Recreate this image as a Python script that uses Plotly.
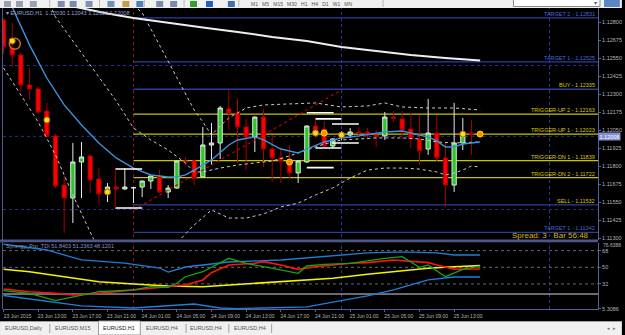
import plotly.graph_objects as go

W, H = 625, 335
ML, MR, MT, MB = 3, 24, 8, 14
PW, PH = W - ML - MR, H - MT - MB
FONT = "Liberation Sans, Arial, sans-serif"

# ---------------- data ----------------
OPEN = [1.12816, 1.12622, 1.12573, 1.12365, 1.12337, 1.12184, 1.12011, 1.11670, 1.11580, 1.11830,
        1.11872, 1.11712, 1.11608, 1.11656, 1.11643, 1.11650, 1.11656, 1.11698, 1.11726, 1.11622,
        1.11649, 1.11837, 1.11837, 1.11726, 1.11948, 1.11962, 1.12198, 1.12170, 1.12073, 1.12004,
        1.12142, 1.11920, 1.11858, 1.11844, 1.11754, 1.11830, 1.12080, 1.12059, 1.11941, 1.12011,
        1.12017, 1.12038, 1.12038, 1.12017, 1.12011, 1.12142, 1.12129, 1.12059, 1.11990, 1.11920,
        1.12031, 1.11858, 1.11670, 1.11962, 1.12031, 1.12030]
HIGH = [1.12830, 1.12795, 1.12590, 1.12483, 1.12350, 1.12240, 1.12025, 1.11733, 1.11962, 1.11969,
        1.11880, 1.11788, 1.11684, 1.11663, 1.11788, 1.11656, 1.11700, 1.11735, 1.11774, 1.11670,
        1.11840, 1.11865, 1.11844, 1.12073, 1.12101, 1.12219, 1.12330, 1.12274, 1.12129, 1.12145,
        1.12198, 1.12017, 1.11934, 1.11948, 1.11840, 1.12083, 1.12122, 1.12115, 1.11995, 1.12045,
        1.12066, 1.12073, 1.12066, 1.12052, 1.12177, 1.12184, 1.12184, 1.12170, 1.12156, 1.12268,
        1.12156, 1.11962, 1.12240, 1.12135, 1.12122, 1.12043]
LOW = [1.12580, 1.12490, 1.12316, 1.12261, 1.12163, 1.11997, 1.11649, 1.11337, 1.11406, 1.11580,
       1.11615, 1.11545, 1.11552, 1.11636, 1.11636, 1.11545, 1.11587, 1.11643, 1.11615, 1.11580,
       1.11645, 1.11809, 1.11670, 1.11720, 1.11809, 1.11851, 1.12052, 1.11823, 1.11774, 1.11899,
       1.11795, 1.11691, 1.11684, 1.11719, 1.11684, 1.11825, 1.11997, 1.11934, 1.11927, 1.11983,
       1.11997, 1.12004, 1.11983, 1.11934, 1.11983, 1.12108, 1.11990, 1.11927, 1.11809, 1.11879,
       1.11830, 1.11518, 1.11622, 1.11913, 1.11879, 1.12000]
CLOSE = [1.12629, 1.12573, 1.12365, 1.12337, 1.12177, 1.12011, 1.11663, 1.11580, 1.11830, 1.11865,
         1.11705, 1.11608, 1.11656, 1.11643, 1.11656, 1.11652, 1.11698, 1.11733, 1.11622, 1.11649,
         1.11837, 1.11830, 1.11719, 1.11948, 1.11962, 1.12205, 1.12170, 1.12073, 1.12004, 1.12142,
         1.11920, 1.11858, 1.11837, 1.11754, 1.11837, 1.12080, 1.12045, 1.11941, 1.11990, 1.12031,
         1.12038, 1.12031, 1.12017, 1.12004, 1.12142, 1.12135, 1.12052, 1.11990, 1.11906, 1.12031,
         1.11858, 1.11670, 1.11962, 1.12011, 1.12024, 1.12008]
BARS = list(range(len(OPEN)))

X_TICKS = [0, 4, 8, 12, 16, 20, 24, 28, 32, 36, 40, 44, 48, 52]
X_TICK_TEXT = ["23 Jun 2015", "23 Jun 13:00", "23 Jun 17:00", "23 Jun 21:00", "24 Jun 01:00",
               "24 Jun 05:00", "24 Jun 09:00", "24 Jun 13:00", "24 Jun 17:00", "24 Jun 21:00",
               "25 Jun 01:00", "25 Jun 05:00", "25 Jun 09:00", "25 Jun 13:00"]
PRICE_TICKS = [1.11300, 1.11425, 1.11550, 1.11675, 1.11800, 1.11925, 1.12050, 1.12175,
               1.12300, 1.12425, 1.12550, 1.12675, 1.12800]
DAY_START_BARS = [15, 39, 63]
ROUND_LEVELS = [1.12500, 1.11500]

# moving averages / bands (bar index, price)
MA_FAST_X = [1, 3, 5, 7, 9, 11, 13, 15, 17, 19, 20, 21, 22, 24, 26, 27, 29, 30, 32, 34, 35, 37, 39,
             41, 44, 46, 48, 49, 50, 51, 52, 53, 55]
MA_FAST_Y = [1.12905, 1.12643, 1.12413, 1.12226, 1.12087, 1.11962, 1.11858, 1.11788, 1.11740,
             1.11726, 1.11726, 1.11740, 1.11774, 1.11844, 1.11948, 1.11983, 1.12004, 1.11983,
             1.11920, 1.11893, 1.11920, 1.11969, 1.11997, 1.12011, 1.12038, 1.12045, 1.12017,
             1.12004, 1.11976, 1.11934, 1.11934, 1.11955, 1.11969]
MA_SLOW_X = [8, 10, 12, 15, 19, 23, 27, 31, 35, 39, 43, 47, 51, 55]
MA_SLOW_Y = [1.12910, 1.12883, 1.12861, 1.12830, 1.12795, 1.12764, 1.12733, 1.12698, 1.12670,
             1.12629, 1.12601, 1.12573, 1.12552, 1.12535]
BAND_A_X = [5, 6, 8, 11, 13, 15, 17, 19, 21, 22, 23, 25, 27, 29, 31, 33, 35, 37, 39, 41, 43, 46,
            48, 50, 52, 55]
BAND_A_Y = [1.12960, 1.12837, 1.12670, 1.12420, 1.12254, 1.12066, 1.11983, 1.11913, 1.11823,
            1.11761, 1.11761, 1.11788, 1.11809, 1.11823, 1.11837, 1.11872, 1.11913, 1.11955,
            1.11983, 1.11990, 1.11997, 1.11997, 1.11990, 1.11969, 1.11962, 1.11969]
BAND_UP_X = [15, 16, 17, 19, 21, 22, 23, 24, 25, 26, 28, 30, 33, 36, 39, 42, 44, 46, 49, 52, 55]
BAND_UP_Y = [1.12920, 1.12865, 1.12754, 1.12531, 1.12309, 1.12191, 1.12108, 1.12017, 1.12080,
             1.12136, 1.12205, 1.12226, 1.12233, 1.12240, 1.12212, 1.12219, 1.12240, 1.12212,
             1.12205, 1.12205, 1.12191]
BAND_LO_X = [0, 2, 4, 6, 8, 10, 11, 14, 17, 20, 22, 24, 26, 28, 30, 32, 34, 36, 38, 40, 42, 44,
             46, 48, 50, 51, 52, 53, 54, 55]
BAND_LO_Y = [1.12483, 1.12295, 1.12108, 1.11879, 1.11601, 1.11344, 1.11219, 1.11120, 1.11150,
             1.11268, 1.11393, 1.11497, 1.11441, 1.11441, 1.11469, 1.11518, 1.11545, 1.11601,
             1.11650, 1.11719, 1.11774, 1.11788, 1.11788, 1.11781, 1.11761, 1.11740, 1.11754,
             1.11774, 1.11802, 1.11795]
TREND_X = [15, 39]
TREND_Y = [1.11497, 1.12330]

# drawn bracket objects (bar from, bar to, price)
BRACKETS = [(12.9, 16.0, 1.11781), (12.9, 16.0, 1.11511),
            (35.0, 38.1, 1.12172), (36.0, 39.0, 1.12129), (37.9, 41.0, 1.12094),
            (37.9, 41.0, 1.11962), (36.0, 39.0, 1.11927), (35.0, 38.1, 1.11791)]
BRACKET_RED = (12.9, 1.11781, 1.11511)

# signal arrows
SIG_YEL_X = [1, 5, 12, 36, 39, 53]
SIG_YEL_Y = [1.12670, 1.12122, 1.11622, 1.12031, 1.12017, 1.12024]
SIG_ORG_X = [33, 37, 55]
SIG_ORG_Y = [1.11830, 1.12031, 1.12024]

# levels
LEVEL_NAMES = ["TARGET 2", "TARGET 1", "BUY", "TRIGGER-UP 2", "TRIGGER-UP 1",
               "TRIGGER-DN 1", "TRIGGER-DN 2", "SELL", "TARGET 1"]
LEVEL_PRICES = [1.12831, 1.12525, 1.12335, 1.12163, 1.12023, 1.11839, 1.11722, 1.11532, 1.11342]
LEVEL_KIND = ["target", "target", "entry", "trigger", "trigger", "trigger", "trigger", "entry", "target"]

# TDI indicator
TDI_GREEN_X = [0, 3, 6, 9, 11, 15, 17, 19, 20, 21, 23, 26, 28, 30, 34, 35, 37, 40, 44, 46, 48, 49, 51, 53, 55]
TDI_GREEN_Y = [24.7, 21.9, 13.9, 20.1, 23.6, 25.5, 29.0, 28.4, 32.7, 39.8, 45.2, 59.7, 54.3, 50.6,
               43.5, 51.4, 53.2, 54.3, 59.7, 61.5, 50.0, 52.5, 39.8, 47.8, 51.24]
TDI_RED_X = [0, 3, 6, 8, 11, 15, 19, 21, 23, 24, 26, 29, 30, 32, 34, 36, 40, 42, 45, 49, 50, 52, 55]
TDI_RED_Y = [26.5, 23.6, 21.9, 20.1, 21.9, 25.5, 28.4, 30.9, 36.3, 44.2, 52.5, 54.3, 56.1, 52.5,
             47.8, 50.6, 54.3, 55.0, 57.9, 55.0, 52.5, 47.8, 48.12]
TDI_YEL_X = [0, 3, 7, 11, 15, 19, 23, 26, 30, 36, 38, 42, 45, 49, 52, 55]
TDI_YEL_Y = [47.8, 45.2, 39.8, 34.4, 31.9, 29.8, 29.0, 30.9, 32.7, 37.0, 38.1, 42.4, 45.2, 48.9, 50.6, 51.84]
TDI_UP_X = [0, 5, 9, 14, 18, 19, 21, 26, 32, 36, 38, 42, 45, 47, 50, 52, 55]
TDI_UP_Y = [75.0, 68.7, 57.9, 54.6, 49.2, 44.9, 50.3, 55.7, 57.9, 61.1, 62.2, 65.5, 66.5, 66.5, 65.5, 63.3, 63.3]
TDI_LO_X = [0, 7, 9, 15, 19, 22, 25, 27, 35, 39, 42, 45, 49, 52, 55]
TDI_LO_Y = [19.5, 10.3, 8.2, 6.0, 8.2, 10.3, 6.0, 5.31, 7.1, 13.6, 19.0, 25.5, 36.3, 39.5, 39.5]
TDI_LEVELS = [68, 50, 32]
TDI_WHITE = 21.1
TDI_MAX_LABEL = "76.6388"
TDI_TICKS = [68, 50, 32, 5.3086]
TDI_TICK_TEXT = ["68", "50", "32", "5.3086"]

TABS = ["EURUSD,Daily", "EURUSD,M15", "EURUSD,H1", "EURUSD,H4", "EURUSD,H4", "EURUSD,H4"]

# ---------------- layout helpers ----------------
def px_x(x):
    return (x - ML) / PW

def px_y(y):
    return (H - MB - y) / PH

X_RANGE = [-0.06, 68.6]
Y_RANGE = [1.11292, 1.12899]
Y2_RANGE = [4.9, 76.8]
AXC = "#56609a"
BLUE_LINE = "#2b3f9e"
BLUE_TXT = "#4a68d8"
YEL_LINE = "#c8c400"
YEL_TXT = "#dccc00"

fig = go.Figure()

# candles
fig.add_trace(go.Candlestick(
    x=BARS, open=OPEN, high=HIGH, low=LOW, close=CLOSE, xaxis="x", yaxis="y",
    increasing=dict(line=dict(color="#e6e6e6", width=1), fillcolor="#28c828"),
    decreasing=dict(line=dict(color="#a80000", width=1), fillcolor="#ff0000"),
    hoverinfo="skip"))

def line(x, y, color, width=1, dash="solid", axis="y"):
    fig.add_trace(go.Scatter(x=x, y=y, mode="lines", yaxis=axis, xaxis="x",
                             line=dict(color=color, width=width, dash=dash), hoverinfo="skip"))

line(BAND_A_X, BAND_A_Y, "#c8c8c8", 1, "dot")
line(BAND_UP_X, BAND_UP_Y, "#c8c8c8", 1, "dot")
line(BAND_LO_X, BAND_LO_Y, "#c8c8c8", 1, "dot")
line(TREND_X, TREND_Y, "#c00000", 1.2, "dot")
line(MA_SLOW_X, MA_SLOW_Y, "#eeeeee", 2)
line(MA_FAST_X, MA_FAST_Y, "#3d92dc", 1.4)

# brackets
bx, by = [], []
for x0, x1, p in BRACKETS:
    bx += [x0, x1, None]
    by += [p, p, None]
line(bx, by, "#ffffff", 1.6)
line([BRACKET_RED[0], BRACKET_RED[0]], [BRACKET_RED[1], BRACKET_RED[2]], "#b00000", 1)

# signals
fig.add_trace(go.Scatter(x=[1.3], y=[1.12650], mode="markers", hoverinfo="skip",
                         marker=dict(symbol="circle-open", size=11, color="#c86a20", line=dict(width=1.5))))
fig.add_trace(go.Scatter(x=SIG_YEL_X, y=SIG_YEL_Y, mode="markers", hoverinfo="skip",
                         marker=dict(symbol="circle", size=6, color="#f0e020", line=dict(color="#c06000", width=1))))
fig.add_trace(go.Scatter(x=SIG_ORG_X, y=SIG_ORG_Y, mode="markers", hoverinfo="skip",
                         marker=dict(symbol="circle", size=6, color="#ff8c00", line=dict(color="#ffe000", width=1))))

# TDI
line(TDI_UP_X, TDI_UP_Y, "#1f7fd8", 1.3, axis="y2")
line(TDI_LO_X, TDI_LO_Y, "#1f7fd8", 1.3, axis="y2")
line(TDI_YEL_X, TDI_YEL_Y, "#f4f400", 1.6, axis="y2")
line(TDI_RED_X, TDI_RED_Y, "#ff1414", 1.6, axis="y2")
line(TDI_GREEN_X, TDI_GREEN_Y, "#12a812", 1.3, axis="y2")

shapes = []
annotations = []

# chrome: toolbar
shapes.append(dict(type="rect", xref="paper", yref="paper", x0=px_x(0), x1=px_x(W), y0=px_y(8), y1=px_y(0),
                   fillcolor="#f0f0f0", line=dict(width=0), layer="above"))
for xi, col in [(4, "#9aa0b0"), (16, "#9aa0b0"), (30, "#9aa0b0"), (58, "#7a8ab0"), (70, "#7a8ab0"),
                (86, "#8090b8"), (108, "#6a90c8"), (123, "#c0a040"), (137, "#5080c0"), (157, "#7a8ab0"),
                (171, "#7a8ab0"), (191, "#30a030"), (207, "#2060c0"), (229, "#4070b0")]:
    shapes.append(dict(type="rect", xref="paper", yref="paper", x0=px_x(xi), x1=px_x(xi + 7),
                       y0=px_y(7), y1=px_y(1), fillcolor=col, line=dict(width=0), layer="above"))
for xs in [50, 100, 145, 185, 240, 385]:
    shapes.append(dict(type="line", xref="paper", yref="paper", x0=px_x(xs), x1=px_x(xs),
                       y0=px_y(7), y1=px_y(0), line=dict(color="#b8b8b8", width=1), layer="above"))
shapes.append(dict(type="rect", xref="paper", yref="paper", x0=px_x(516), x1=px_x(603), y0=px_y(6.5), y1=px_y(-1),
                   fillcolor="#ffffff", line=dict(color="#8a8a8a", width=1), layer="above"))
shapes.append(dict(type="rect", xref="paper", yref="paper", x0=px_x(607), x1=px_x(623), y0=px_y(7), y1=px_y(0),
                   fillcolor="#5a86c8", line=dict(width=0), layer="above"))
annotations.append(dict(xref="paper", yref="paper", x=px_x(250), y=px_y(3.5), xanchor="left", yanchor="middle",
                        text="M1   M5   M15   M30   H1   H4   D1   W1   MN", showarrow=False,
                        font=dict(size=5, color="#505050", family=FONT)))
annotations.append(dict(xref="paper", yref="paper", x=px_x(598), y=px_y(3), xanchor="center", yanchor="middle",
                        text="▾", showarrow=False, font=dict(size=6, color="#4060a0", family=FONT)))

# bottom tab strip
shapes.append(dict(type="rect", xref="paper", yref="paper", x0=px_x(0), x1=px_x(W), y0=px_y(H), y1=px_y(321),
                   fillcolor="#f0f0f0", line=dict(width=0), layer="above"))
shapes.append(dict(type="line", xref="paper", yref="paper", x0=px_x(0), x1=px_x(W), y0=px_y(321.5), y1=px_y(321.5),
                   line=dict(color="#a0a0a0", width=1), layer="above"))
shapes.append(dict(type="rect", xref="paper", yref="paper", x0=px_x(99), x1=px_x(141), y0=px_y(H), y1=px_y(321),
                   fillcolor="#ffffff", line=dict(color="#9a9a9a", width=1), layer="above"))
for xs in [50, 187, 230, 273]:
    shapes.append(dict(type="line", xref="paper", yref="paper", x0=px_x(xs), x1=px_x(xs),
                       y0=px_y(333), y1=px_y(324), line=dict(color="#a0a0a0", width=1), layer="above"))
for name, cx in zip(TABS, [24, 73, 120, 163, 207, 251]):
    annotations.append(dict(xref="paper", yref="paper", x=px_x(cx), y=px_y(328), text=name, showarrow=False,
                            xanchor="center", yanchor="middle",
                            font=dict(size=5.5, color="#202020" if name == "EURUSD,H1" else "#555555", family=FONT)))
annotations.append(dict(xref="paper", yref="paper", x=px_x(615), y=px_y(328), text="◂  ▸", showarrow=False,
                        xanchor="center", yanchor="middle", font=dict(size=5, color="#707070", family=FONT)))

# panel separator and left border
shapes.append(dict(type="rect", xref="paper", yref="paper", x0=px_x(0), x1=px_x(601), y0=px_y(242.3), y1=px_y(239.6),
                   fillcolor="#4c5688", line=dict(width=0), layer="above"))
shapes.append(dict(type="line", xref="paper", yref="paper", x0=px_x(2.5), x1=px_x(2.5), y0=px_y(309), y1=px_y(8),
                   line=dict(color="#4c5688", width=1), layer="above"))

# day separators
for b, col in zip(DAY_START_BARS, ["#8b1a1a", "#2a3a9a", "#2a3a9a"]):
    shapes.append(dict(type="line", xref="x", yref="paper", x0=b, x1=b, y0=px_y(309), y1=px_y(8),
                       line=dict(color=col, width=1, dash="dot"), layer="below"))

# round levels and bid line
for p in ROUND_LEVELS + [CLOSE[-1]]:
    shapes.append(dict(type="line", xref="paper", yref="y", x0=0, x1=1, y0=p, y1=p,
                       line=dict(color="#23308f", width=1, dash="dot"), layer="below"))

# trading levels
for name, p, kind in zip(LEVEL_NAMES, LEVEL_PRICES, LEVEL_KIND):
    lc = YEL_LINE if kind == "trigger" else BLUE_LINE
    tc = BLUE_TXT if kind == "target" else YEL_TXT
    shapes.append(dict(type="line", xref="x", yref="y", x0=DAY_START_BARS[0], x1=X_RANGE[1], y0=p, y1=p,
                       line=dict(color=lc, width=1.3), layer="below"))
    annotations.append(dict(xref="paper", yref="y", x=px_x(600), y=p, xanchor="right", yanchor="bottom",
                            yshift=-1, text=f"{name} - {p:.5f}", showarrow=False,
                            font=dict(size=5.5, color=tc, family=FONT)))

# TDI levels
for lv in TDI_LEVELS:
    shapes.append(dict(type="line", xref="paper", yref="y2", x0=0, x1=1, y0=lv, y1=lv,
                       line=dict(color="#6a6a6a", width=1, dash="dot"), layer="below"))
shapes.append(dict(type="line", xref="paper", yref="y2", x0=0, x1=1, y0=TDI_WHITE, y1=TDI_WHITE,
                   line=dict(color="#d8d8d8", width=1), layer="below"))

# texts
annotations.append(dict(xref="paper", yref="paper", x=px_x(4), y=px_y(12.5), xanchor="left", yanchor="middle",
                        text=f"▾ EURUSD,H1  {OPEN[-1]:.5f} {HIGH[-1]:.5f} {LOW[-1]:.5f} {CLOSE[-1]:.5f}",
                        showarrow=False, font=dict(size=5.5, color="#9aa4d4", family=FONT)))
annotations.append(dict(xref="paper", yref="paper", x=px_x(4), y=px_y(246), xanchor="left", yanchor="middle",
                        text="Synergy_Pro_TDI 51.8403 51.2363 48.1201",
                        showarrow=False, font=dict(size=5.5, color="#8a94c8", family=FONT)))
annotations.append(dict(xref="paper", yref="paper", x=px_x(594), y=px_y(235), xanchor="right", yanchor="middle",
                        text="Spread: 3   Bar 56:48", showarrow=False,
                        font=dict(size=8, color="#d8b800", family=FONT)))
annotations.append(dict(xref="paper", yref="y", x=px_x(613), y=CLOSE[-1], xanchor="center", yanchor="middle",
                        text=f"{CLOSE[-1]:.5f}", showarrow=False, bgcolor="#8290d0", borderpad=0.5,
                        font=dict(size=5.5, color="#ffffff", family=FONT)))
annotations.append(dict(xref="paper", yref="paper", x=px_x(604), y=px_y(245.3), xanchor="left", yanchor="middle",
                        text=TDI_MAX_LABEL, showarrow=False,
                        font=dict(size=5, color="#b4b4b4", family=FONT)))

D_MAIN = [px_y(239.5), 1]
D_IND = [px_y(309), px_y(242.5)]
tickfont = dict(size=5.5, color="#b4b4b4", family=FONT)

fig.update_layout(
    width=W, height=H, margin=dict(l=ML, r=MR, t=MT, b=MB),
    paper_bgcolor="#000000", plot_bgcolor="#000000", showlegend=False,
    shapes=shapes, annotations=annotations,
    xaxis=dict(range=X_RANGE, domain=[0, 1], anchor="y2", tickvals=X_TICKS, ticktext=X_TICK_TEXT,
               showgrid=False, zeroline=False, showline=True, linecolor=AXC, ticks="outside",
               ticklen=2, tickcolor=AXC, tickfont=dict(size=5, color="#b4b4b4", family=FONT),
               ticklabelshift=14, rangeslider=dict(visible=False), fixedrange=True),
    yaxis=dict(domain=D_MAIN, range=Y_RANGE, side="right", anchor="x", tickvals=PRICE_TICKS,
               ticktext=[f"{p:.5f}" for p in PRICE_TICKS], showgrid=False, zeroline=False,
               showline=True, linecolor=AXC, ticks="outside", ticklen=2, tickcolor=AXC, tickfont=tickfont),
    yaxis2=dict(domain=D_IND, range=Y2_RANGE, side="right", anchor="x", tickvals=TDI_TICKS,
                ticktext=TDI_TICK_TEXT, showgrid=False, zeroline=False, showline=True, linecolor=AXC,
                ticks="outside", ticklen=2, tickcolor=AXC, tickfont=tickfont),
)

fig.write_html("out.html")
